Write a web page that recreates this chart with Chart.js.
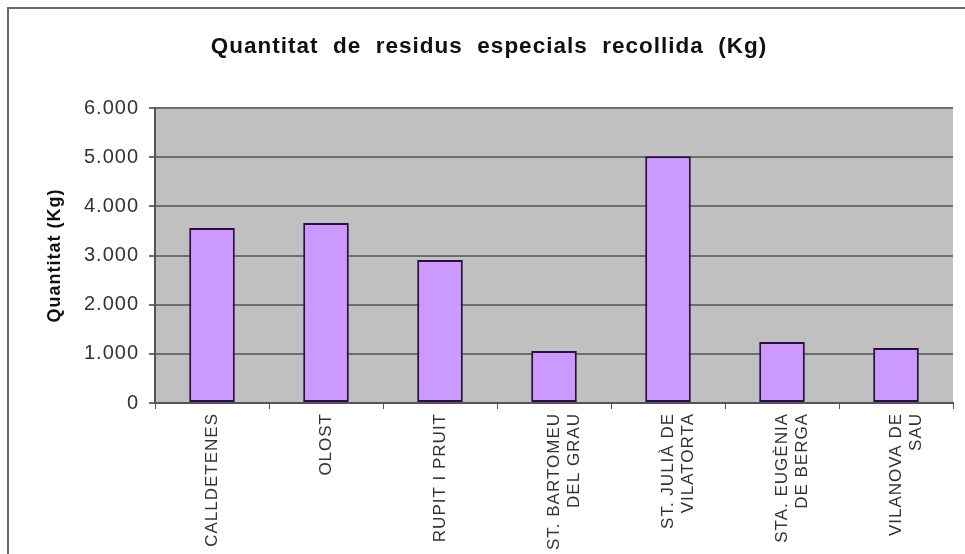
<!DOCTYPE html>
<html>
<head>
<meta charset="utf-8">
<script src="https://cdn.jsdelivr.net/npm/chart.js@4/dist/chart.umd.min.js"></script>
<style>
  html, body { margin: 0; padding: 0; background: #ffffff; }
  #wrap { position: relative; width: 965px; height: 554px; }
  #frame { position: absolute; left: 7px; top: 7px; right: 0; bottom: 0;
           border-top: 2px solid #6a6a6a; border-left: 2px solid #6a6a6a; pointer-events: none; }
  canvas { display: block; }
</style>
</head>
<body>
<div id="wrap">
  <canvas id="c" width="965" height="554"></canvas>
  <div id="frame"></div>
</div>
<script>
const categories = [
  "CALLDETENES",
  "OLOST",
  "RUPIT I PRUIT",
  ["ST. BARTOMEU", "DEL GRAU"],
  ["ST. JULIÀ DE", "VILATORTA"],
  ["STA. EUGÈNIA", "DE BERGA"],
  ["VILANOVA DE", "SAU"]
];
const quantitatKg = [3560, 3660, 2910, 1060, 5020, 1240, 1120];
const yTickLabels = ["0", "1.000", "2.000", "3.000", "4.000", "5.000", "6.000"];
const chartTitle = "Quantitat  de  residus  especials  recollida  (Kg)";
const yAxisTitle = "Quantitat (Kg)";

const spacing = {
  id: 'spacing',
  beforeUpdate(chart) { chart.ctx.letterSpacing = '1px'; },
  beforeDraw(chart) { chart.ctx.letterSpacing = '1px'; }
};

const plotBg = {
  id: 'plotBg',
  beforeDraw(chart) {
    const { ctx, chartArea: a } = chart;
    ctx.save();
    ctx.fillStyle = '#c0c0c0';
    ctx.fillRect(a.left, a.top, a.right - a.left, a.bottom - a.top);
    ctx.restore();
  }
};

new Chart(document.getElementById('c'), {
  type: 'bar',
  data: {
    labels: categories,
    datasets: [{
      data: quantitatKg,
      backgroundColor: '#cc99ff',
      borderColor: '#2a1040',
      borderWidth: 2,
      borderSkipped: false,
      barPercentage: 0.4,
      categoryPercentage: 1.0
    }]
  },
  options: {
    responsive: false,
    animation: false,
    devicePixelRatio: 1,
    layout: { padding: { left: 25, right: 12, top: 0, bottom: 0 } },
    plugins: {
      legend: { display: false },
      tooltip: { enabled: false },
      title: {
        display: true,
        text: chartTitle,
        color: '#111111',
        font: { family: 'Liberation Sans, Arial, sans-serif', size: 22.5, weight: 'bold' },
        padding: { top: 33, bottom: 48 }
      }
    },
    scales: {
      x: {
        offset: true,
        grid: { display: true, drawOnChartArea: false, drawTicks: true, tickLength: 6, color: '#555555', lineWidth: 1 },
        border: { display: true, color: '#555555', width: 2 },
        ticks: {
          color: '#333333',
          font: { family: 'Liberation Sans, Arial, sans-serif', size: 17 },
          minRotation: 90, maxRotation: 90,
          padding: 4,
          autoSkip: false
        },
        afterFit(scale) { scale.height = 151; }
      },
      y: {
        min: 0, max: 6000,
        grid: { display: true, drawOnChartArea: true, drawTicks: true, tickLength: 6, color: '#6e6e6e', lineWidth: 2 },
        border: { display: true, color: '#555555', width: 2 },
        ticks: {
          stepSize: 1000,
          color: '#333333',
          font: { family: 'Liberation Sans, Arial, sans-serif', size: 20 },
          padding: 10,
          callback(value, index) { return yTickLabels[index]; }
        },
        title: {
          display: true,
          text: yAxisTitle,
          color: '#111111',
          font: { family: 'Liberation Sans, Arial, sans-serif', size: 18, weight: 'bold' },
          padding: { top: 19, bottom: 0 }
        },
        afterFit(scale) { scale.width = 130; }
      }
    }
  },
  plugins: [spacing, plotBg]
});
</script>
</body>
</html>
